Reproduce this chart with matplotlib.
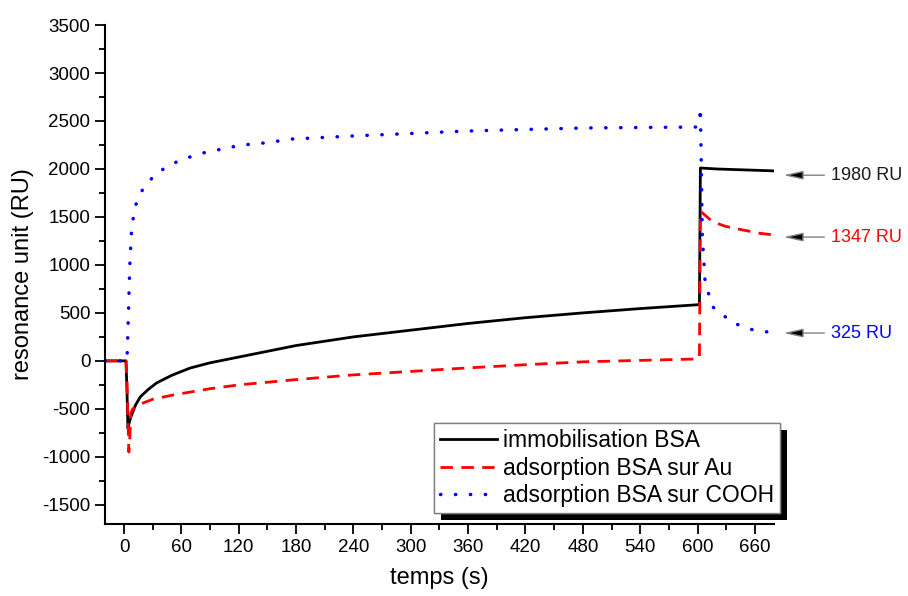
import matplotlib
matplotlib.use("Agg")
import matplotlib.pyplot as plt
import matplotlib.patheffects as pe
import numpy as np

plt.rcParams['font.family'] = ['Liberation Sans', 'DejaVu Sans']
plt.rcParams['axes.unicode_minus'] = False

# temps (s) / resonance unit (RU)
t_immo = [-20, 2, 3, 4, 6, 8, 12, 17, 25, 34, 50, 69, 90, 120, 180, 240, 300,
          360, 420, 480, 540, 600, 602, 603, 620, 650, 680]
ru_immo = [0, 0, -300, -700, -620, -560, -460, -375, -300, -230, -150, -75, -20,
           40, 160, 250, 320, 390, 450, 500, 545, 585, 590, 2010, 2000, 1990, 1980]

t_au = [-20, 2, 3, 4, 5, 6, 7, 9, 12, 17, 30, 52, 90, 120, 180, 240, 300, 360,
        420, 480, 540, 600, 602, 603, 610, 616, 630, 647, 665, 680]
ru_au = [0, 0, -200, -600, -950, -800, -550, -500, -480, -450, -400, -354, -290,
         -250, -195, -146, -110, -73, -40, -10, 5, 20, 30, 1560, 1500, 1448, 1400,
         1365, 1330, 1312]

t_cooh = [-20, 3, 4, 6, 8, 12, 20, 33, 48, 62, 76, 90, 104, 118, 133, 147, 162,
          176, 240, 360, 480, 600, 602, 603, 604, 605, 608, 616, 637, 658, 680]
ru_cooh = [0, 0, 300, 1000, 1400, 1620, 1800, 1948, 2042, 2104, 2146, 2187, 2208,
           2240, 2260, 2271, 2292, 2312, 2344, 2396, 2427, 2437, 2460, 2640, 2000,
           1300, 812, 562, 396, 323, 292]

labels = ['immobilisation BSA', 'adsorption BSA sur Au', 'adsorption BSA sur COOH']
final_text = ['1980 RU', '1347 RU', '325 RU']
final_y = [1935, 1290, 290]
final_col = ['#1a1a1a', '#ff0000', '#0000ff']

fig = plt.figure(figsize=(9.08, 5.96), dpi=100)
ax = fig.add_axes([0.1156, 0.1208, 0.7368, 0.8372])

ax.plot(t_immo, ru_immo, color='black', lw=2, label=labels[0])
ax.plot(t_au, ru_au, color='#ff0000', lw=2, linestyle=(0, (4.5, 3)), label=labels[1])
ax.plot(t_cooh, ru_cooh, color='#0000ff', lw=2.5, linestyle=(0, (0.1, 4.2)),
        dash_capstyle='round', label=labels[2])

ax.set_xlim(-20, 680)
ax.set_ylim(-1700, 3500)
ax.set_xticks(np.arange(0, 661, 60))
ax.set_xticks(np.arange(30, 680, 60), minor=True)
ax.set_yticks(np.arange(-1500, 3501, 500))
ax.set_yticks(np.arange(-1750, 3500, 500)[1:], minor=True)
for s in ['top', 'right']:
    ax.spines[s].set_visible(False)
for s in ['left', 'bottom']:
    ax.spines[s].set_linewidth(1.5)
ax.tick_params(which='major', direction='out', length=7, width=1.3, labelsize=13.5)
ax.tick_params(which='minor', direction='out', length=4, width=1.3)
ax.set_xlabel('temps (s)', fontsize=17, labelpad=8)
ax.set_ylabel('resonance unit (RU)', fontsize=17, labelpad=6)

for txt, y, c in zip(final_text, final_y, final_col):
    ax.annotate(txt, xy=(690, y), xytext=(740, y), color=c, fontsize=13,
                va='center', ha='left', annotation_clip=False,
                arrowprops=dict(arrowstyle='-|>,head_length=0.9,head_width=0.2',
                                ec='gray', fc='black', lw=1, shrinkA=3, shrinkB=0))

leg = ax.legend(loc='lower right', bbox_to_anchor=(1.009, 0.022), borderaxespad=0,
                fontsize=16.5, fancybox=False, edgecolor='gray', framealpha=1,
                handlelength=2.5, handletextpad=0.25, labelspacing=0.2,
                borderpad=0.25)
leg.get_frame().set_linewidth(1)
leg.get_frame().set_path_effects([
    pe.withSimplePatchShadow(offset=(5, -5), shadow_rgbFace='black', alpha=1),
    pe.Normal()])

fig.savefig('out.png', dpi=100)
